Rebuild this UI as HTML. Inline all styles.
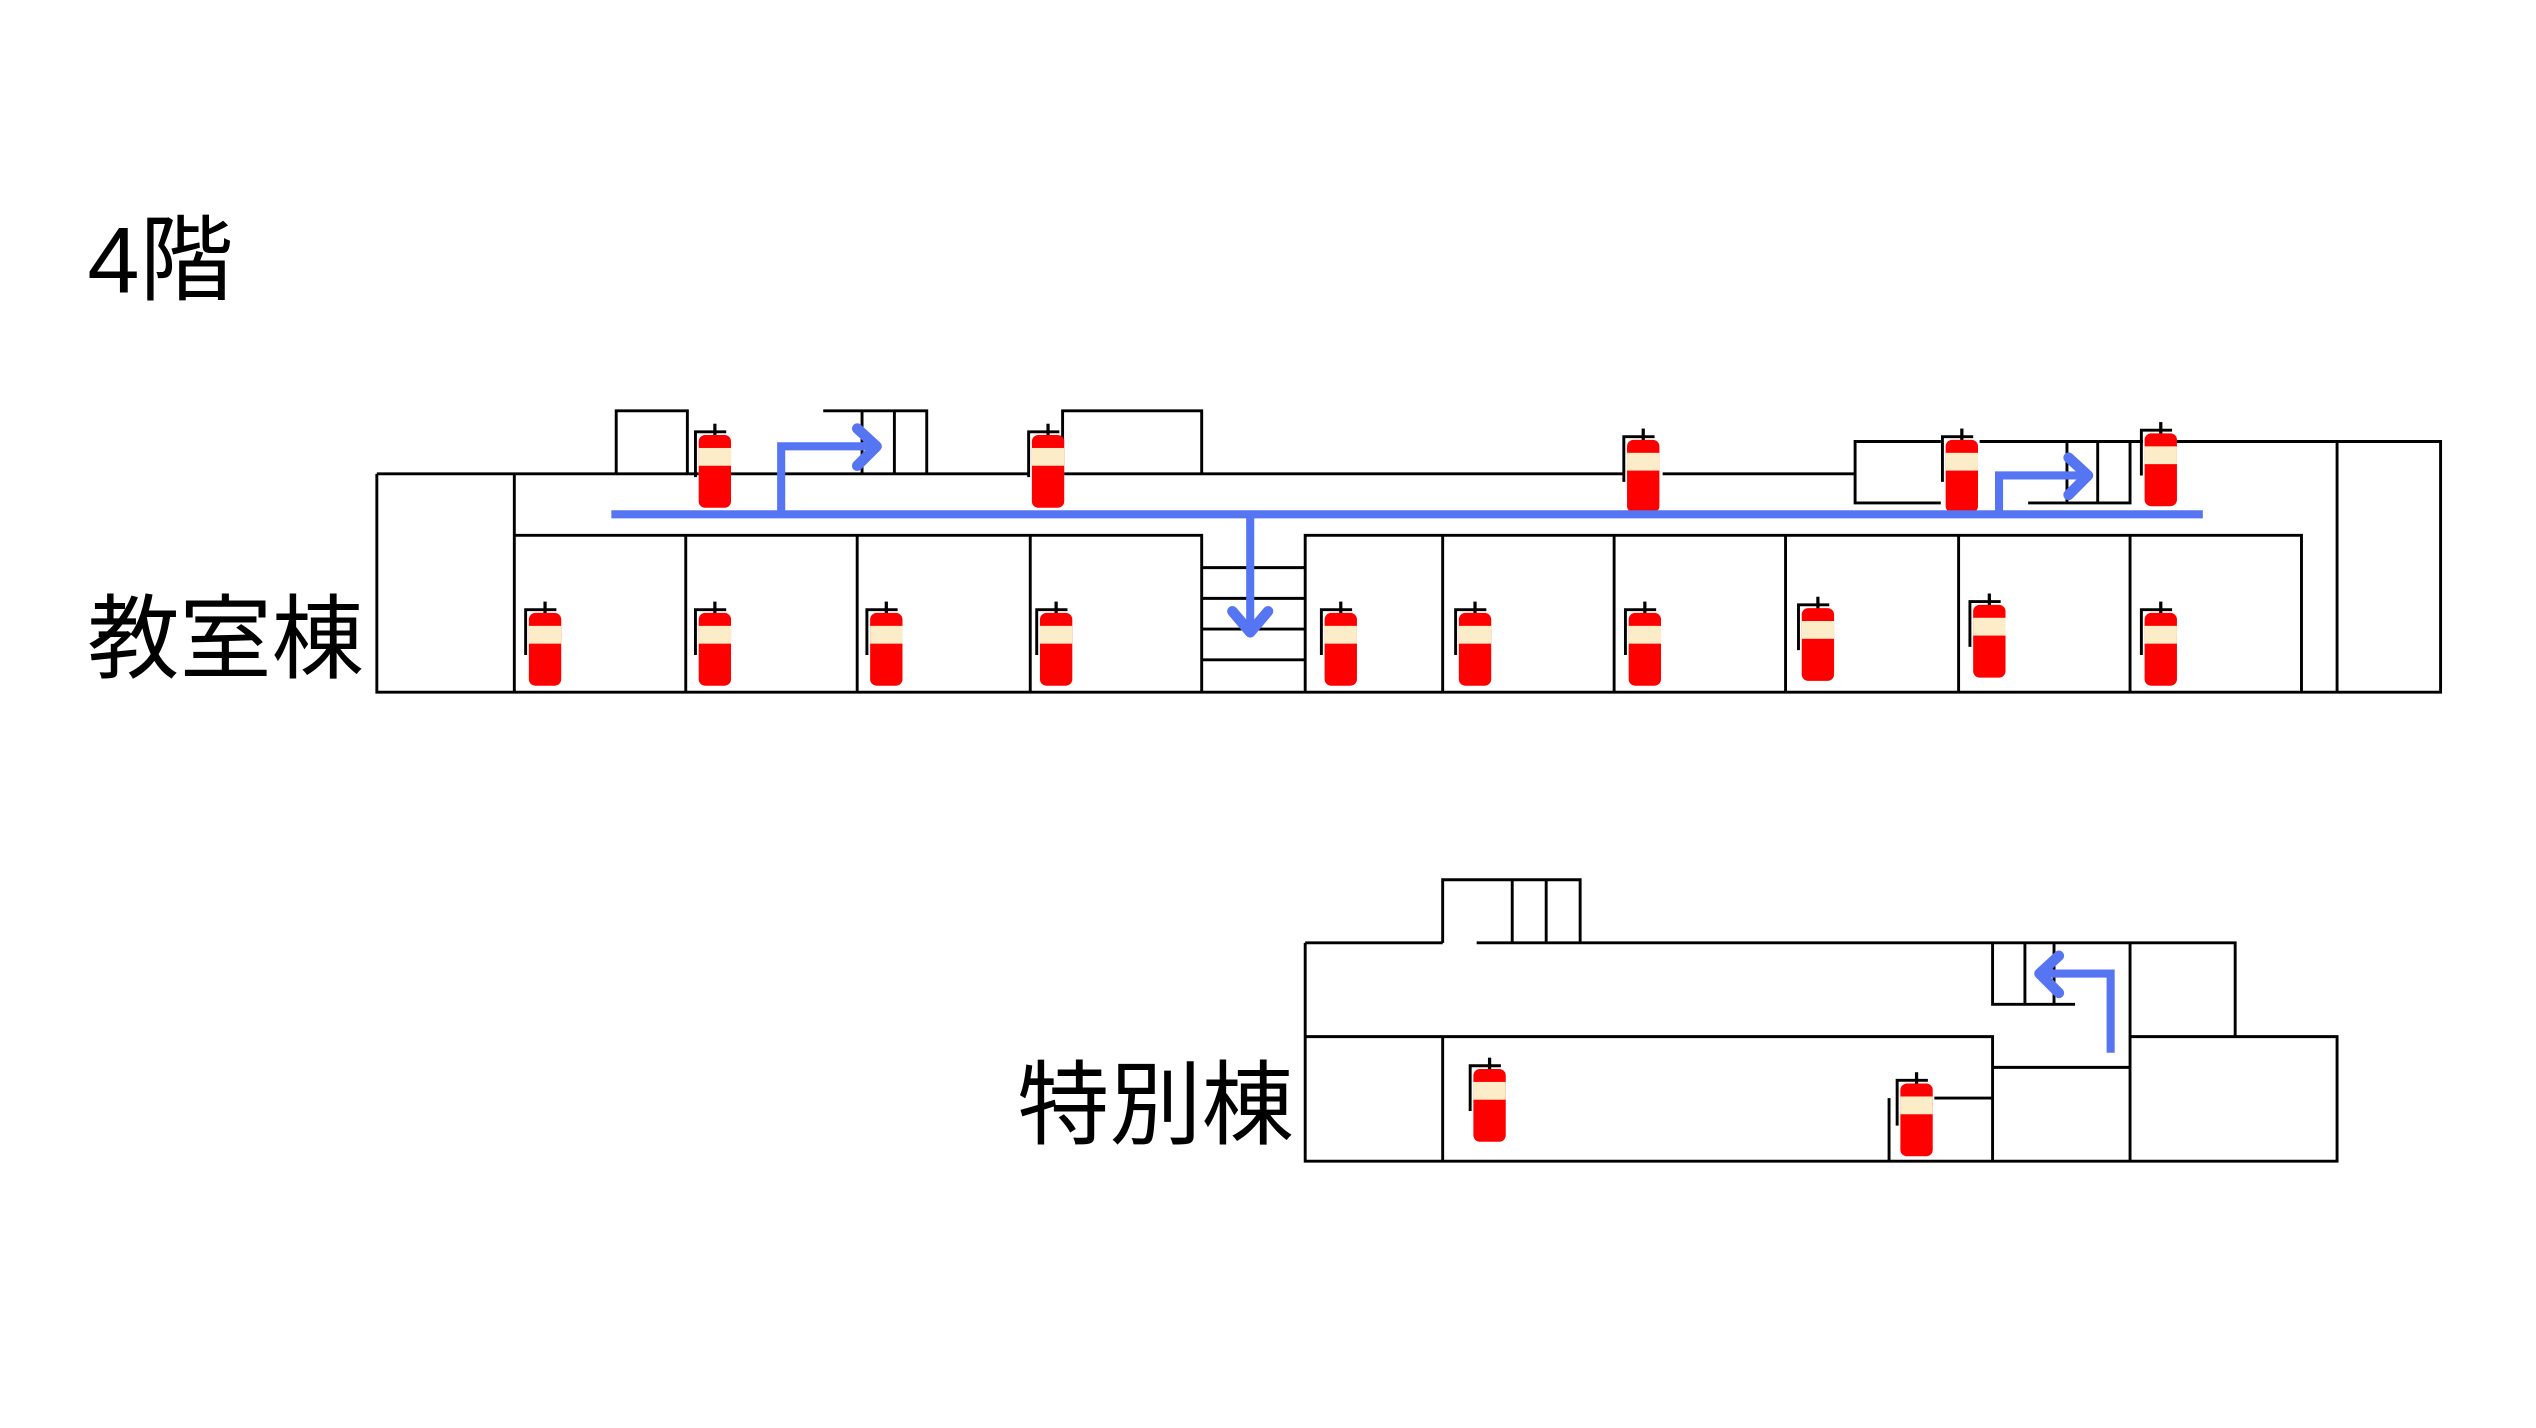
<!DOCTYPE html>
<html><head><meta charset="utf-8"><style>
html,body{margin:0;padding:0;background:#fff;}
svg{display:block;}
text{font-family:"Liberation Sans","Noto Sans CJK JP",sans-serif;fill:#000;}
</style></head><body>
<svg width="2536" height="1428" viewBox="0 0 1568 883" preserveAspectRatio="none" xmlns="http://www.w3.org/2000/svg">
<defs>
<g id="ext">
  <path d="M-12,30 V2 H7" stroke="#000" stroke-width="1.8" fill="none"/>
  <path d="M0,-3 V6" stroke="#000" stroke-width="2"/>
  <rect x="-10" y="4" width="20" height="45" rx="4" fill="#f00"/>
  <rect x="-10" y="12" width="20" height="11" fill="#fcecc8"/>
</g>
</defs>
<text x="54" y="181" font-size="58">4階</text>
<text x="54" y="415" font-size="57">教室棟</text>
<text x="629" y="703" font-size="57">特別棟</text>

<g stroke="#000" stroke-width="1.8" fill="none">
<path d="M233,293 V428 H1509 V273 H1340"/>
<path d="M233,293 H432 M452,293 H636 M658,293 H1004 M1028,293 H1147"/>
<path d="M318,293 V428"/>
<path d="M318,331 H743 V428 M807,428 V331 H1423 V428"/>
<path d="M424,331V428 M530,331V428 M637,331V428 M892,331V428 M998,331V428 M1104,331V428 M1211,331V428 M1317,331V428"/>
<path d="M743,351H807 M743,370H807 M743,389H807 M743,408H807"/>
<path d="M1445,273V428"/>
<path d="M381,293 V254 H425 V293"/>
<path d="M509,254 H573 V293 M533,254V293 M553,254V293"/>
<path d="M657,293 V254 H743 V293"/>
<path d="M1147,293 V273 H1200 M1224,273 H1325 M1147,293 V311 H1200 M1254,311 H1317 V273 M1297,273 V311 M1278,273 V311"/>
<path d="M807,583 V718 H1445 V641 H1317"/>
<path d="M807,583 H892 M913,583 H1382 V641"/>
<path d="M892,583 V544 H977 V583 M935,544V583 M956,544V583"/>
<path d="M807,641 H1232 V718 M892,641 V718"/>
<path d="M1317,583 V718 M1232,660 H1317"/>
<path d="M1232,583 V621 H1283 M1252,583V621 M1270,583V621"/>
<path d="M1196,679 H1232 M1168,679 V718"/>
</g>

<use href="#ext" x="442" y="265"/>
<use href="#ext" x="648" y="265"/>
<use href="#ext" x="1016" y="268"/>
<use href="#ext" x="1213" y="268"/>
<use href="#ext" x="1336" y="264"/>
<use href="#ext" x="337" y="375"/>
<use href="#ext" x="442" y="375"/>
<use href="#ext" x="548" y="375"/>
<use href="#ext" x="653" y="375"/>
<use href="#ext" x="829" y="375"/>
<use href="#ext" x="912" y="375"/>
<use href="#ext" x="1017" y="375"/>
<use href="#ext" x="1124" y="372"/>
<use href="#ext" x="1230" y="370"/>
<use href="#ext" x="1336" y="375"/>
<use href="#ext" x="921" y="657"/>
<use href="#ext" x="1185" y="666"/>

<g stroke="#5575f2" stroke-width="5" fill="none">
<path d="M378,318 H1362"/>
<path d="M483,318 V276 H538"/>
<path d="M773,318 V390"/>
<path d="M1236,318 V294 H1288"/>
<path d="M1305,651 V602 H1264"/>
</g>
<g stroke="#5575f2" stroke-width="6.5" fill="none" stroke-linecap="round" stroke-linejoin="round">
<path d="M530,265 L542,276 L530,288"/>
<path d="M762,378 L773,391 L784,378"/>
<path d="M1279,283 L1291,294 L1279,306"/>
<path d="M1273,591 L1261,602 L1273,614"/>
</g>
</svg>
</body></html>
